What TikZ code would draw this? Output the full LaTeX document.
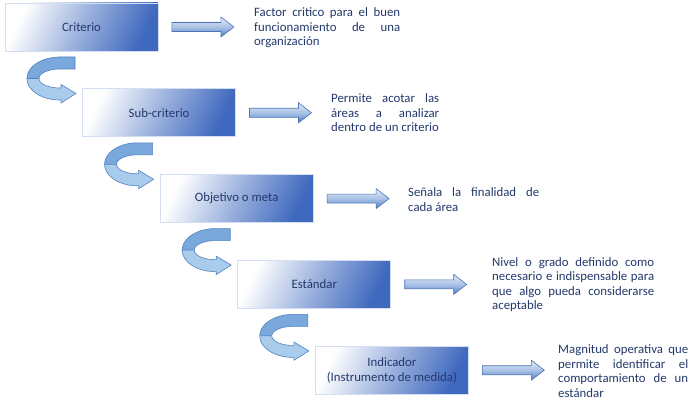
\documentclass[tikz,border=0pt]{standalone}
\usepackage{fontspec}
\setmainfont{Carlito}
\usetikzlibrary{calc}
\definecolor{boxblue}{HTML}{3F69BE}
\definecolor{boxedge}{HTML}{D3DEF2}
\definecolor{txtcol}{HTML}{24396B}
\definecolor{arrtop}{HTML}{E2EBF7}
\definecolor{arrmid}{HTML}{A9C2E6}
\definecolor{arrbot}{HTML}{4F7CC2}
\definecolor{arredge}{HTML}{4A74B5}
\definecolor{uback}{HTML}{7BA8DC}
\definecolor{ufront}{HTML}{A9CBEC}
\definecolor{uedge}{HTML}{5283C2}
\tikzset{
  box/.style={minimum width=153pt, minimum height=48pt, inner sep=0pt,
    left color=white, right color=boxblue, middle color=boxblue!52!white,
    shading angle=65, draw=boxedge, line width=0.8pt,
    font=\fontsize{12.8}{14.5}\selectfont, text=txtcol, align=center},
  barrow/.style={top color=arrtop, bottom color=arrbot, middle color=arrmid,
    draw=arredge, line width=0.6pt},
  desc/.style={anchor=west, inner sep=0pt, align=left, text=txtcol,
    font=\fontsize{12.8}{14.5}\selectfont},
  uback/.style={fill=uback, draw=uedge, line width=0.6pt, line join=round},
  ufront/.style={fill=ufront, draw=uedge, line width=0.6pt, line join=round}
}
\newcommand{\jline}[2]{\makebox[#1][s]{#2}}
\newcommand{\uarr}[2]{%
  \begin{scope}[shift={(#1,#2)}]
    \filldraw[uback] (0,0) -- (-15,0)
      -- plot[domain=90:180, samples=24, variable=\t] ({-15+33*cos(\t)}, {21.5-21.5*sin(\t)})
      -- plot[domain=180:90, samples=24, variable=\t] ({-15+21*cos(\t)}, {21.5-9.5*sin(\t)})
      -- (0,12) -- cycle;
    \filldraw[ufront] (-48,21.5)
      -- plot[domain=180:270, samples=24, variable=\t] ({-15+33*cos(\t)}, {21.5-21.5*sin(\t)})
      -- (-14,43) -- (-14,46) -- (1,36.5) -- (-14,27.5) -- (-14,31)
      -- plot[domain=270:180, samples=24, variable=\t] ({-15+21*cos(\t)}, {21.5-9.5*sin(\t)})
      -- cycle;
  \end{scope}}
\newcommand{\barr}[1]{%
  \draw[barrow] ([shift={(13.5,-4.5)}]#1.east) -- ++(49,0) -- ++(0,-5.5)
    -- ++(13,10) -- ++(-13,10) -- ++(0,-5.5) -- ++(-49,0) -- cycle;}
\begin{document}
\begin{tikzpicture}[x=1pt, y=-1pt]
\useasboundingbox[fill=white] (0,0) rectangle (695,401);
% U-turn arrows
\uarr{75}{57}
\uarr{152.6}{142.8}
\uarr{230.2}{228.6}
\uarr{307.8}{314.4}
% boxes
\node[box] (b1) at (81.5,27) {Criterio};
\node[box] (b2) at (159.1,112.8) {Sub-criterio};
\node[box] (b3) at (236.7,198.6) {Objetivo o meta};
\node[box] (b4) at (314.3,284.4) {Estándar};
\node[box] (b5) at (391.9,370.2) {Indicador\\(Instrumento de medida)};
% block arrows
\barr{b1}
\barr{b2}
\barr{b3}
\barr{b4}
\barr{b5}
% descriptions
\node[desc] (d1) at (254,28) {\jline{146pt}{Factor critico para el buen}\\\jline{146pt}{funcionamiento de una}\\organización};
\node[desc] (d2) at (331,112.8) {\jline{108pt}{Permite acotar las}\\\jline{108pt}{áreas a analizar}\\dentro de un criterio};
\node[desc] (d3) at (408,199.5) {\jline{131pt}{Señala la finalidad de}\\cada área};
\node[desc] (d4) at (492,284.5) {\jline{162pt}{Nivel o grado definido como}\\\jline{162pt}{necesario e indispensable para}\\\jline{162pt}{que algo pueda considerarse}\\aceptable};
\node[desc] (d5) at (558,371) {\jline{130pt}{Magnitud operativa que}\\\jline{130pt}{permite identificar el}\\\jline{130pt}{comportamiento de un}\\estándar};
\end{tikzpicture}
\end{document}
